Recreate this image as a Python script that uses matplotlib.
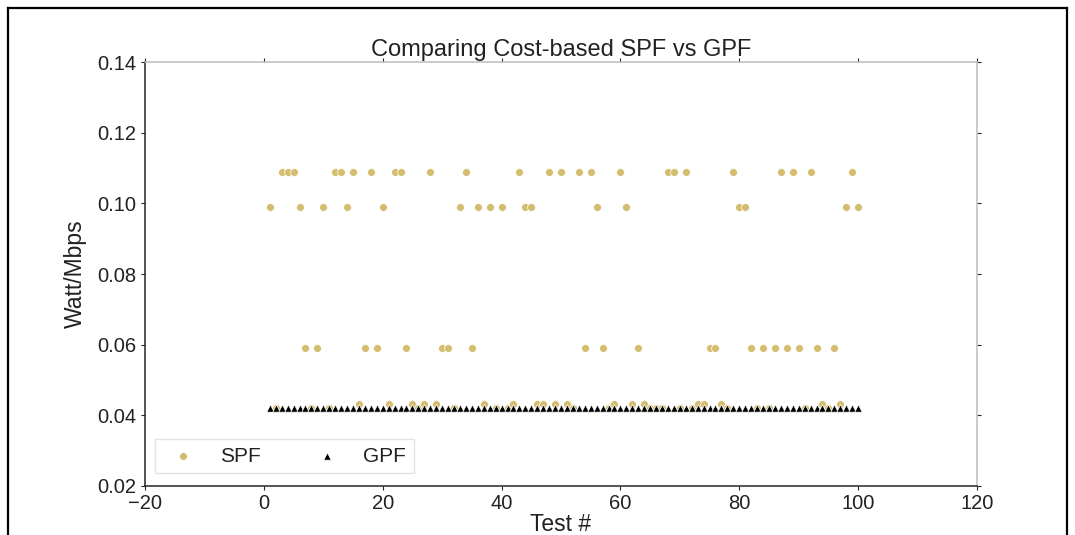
import matplotlib
matplotlib.use("Agg")
import matplotlib.pyplot as plt
from matplotlib.lines import Line2D
import numpy as np

plt.rcParams["font.family"] = ["Liberation Sans", "DejaVu Sans"]

C_GOLD = "#D4BD6F"
C_DARK = "#262626"
C_LIGHT = "#BDBDBD"

# ── Datos ──────────────────────────────────────────────────────────────────
tests = list(range(1, 101))

spf = [
    0.099, 0.042, 0.109, 0.109, 0.109, 0.099, 0.059, 0.042, 0.059, 0.099,   # 1-10
    0.042, 0.109, 0.109, 0.099, 0.109, 0.0433, 0.059, 0.109, 0.059, 0.099,  # 11-20
    0.0433, 0.109, 0.109, 0.059, 0.0433, 0.042, 0.0433, 0.109, 0.0433, 0.059,  # 21-30
    0.059, 0.042, 0.099, 0.109, 0.059, 0.099, 0.0433, 0.099, 0.042, 0.099,  # 31-40
    0.042, 0.0433, 0.109, 0.099, 0.099, 0.0433, 0.0433, 0.109, 0.0433, 0.109,  # 41-50
    0.0433, 0.042, 0.109, 0.059, 0.109, 0.099, 0.059, 0.042, 0.0433, 0.109,  # 51-60
    0.099, 0.0433, 0.059, 0.0433, 0.042, 0.042, 0.042, 0.109, 0.109, 0.042,  # 61-70
    0.109, 0.042, 0.0433, 0.0433, 0.059, 0.059, 0.0433, 0.042, 0.109, 0.099,  # 71-80
    0.099, 0.059, 0.042, 0.059, 0.042, 0.059, 0.109, 0.059, 0.109, 0.059,   # 81-90
    0.042, 0.109, 0.059, 0.0433, 0.042, 0.059, 0.0433, 0.099, 0.109, 0.099,  # 91-100
]
gpf = [0.042] * 100

x_ticks = [-20, 0, 20, 40, 60, 80, 100, 120]
y_ticks = [0.02, 0.04, 0.06, 0.08, 0.10, 0.12, 0.14]

# ── Figura ─────────────────────────────────────────────────────────────────
fig = plt.figure(figsize=(10.75, 5.35), dpi=100)
ax = fig.add_axes([0.1349, 0.0916, 0.7739, 0.7925])

ax.scatter(tests, spf, s=32, color=C_GOLD, edgecolors="white", linewidths=0.5,
           label="SPF", zorder=3)
ax.scatter(tests, gpf, s=28, marker="^", color="black", edgecolors="white",
           linewidths=0.5, label="GPF", zorder=4)

ax.set_xlim(-20, 120)
ax.set_ylim(0.02, 0.14)
ax.set_xticks(x_ticks)
ax.set_yticks(y_ticks)
ax.set_yticklabels([f"{v:.2f}" for v in y_ticks])

# Ejes
for s in ["left", "bottom"]:
    ax.spines[s].set_color(C_DARK)
    ax.spines[s].set_linewidth(1.1)
for s in ["top", "right"]:
    ax.spines[s].set_color(C_LIGHT)
    ax.spines[s].set_linewidth(1.1)
ax.tick_params(direction="out", length=3, width=0.8, labelsize=14.5,
               colors=C_DARK, labelcolor="#222222", pad=3,
               top=True, right=True)
for t in ax.xaxis.get_ticklines()[1::2] + ax.yaxis.get_ticklines()[1::2]:
    t.set_color(C_LIGHT)

ax.set_xlabel("Test #", fontsize=16.5, color="#222222", labelpad=0)
ax.set_ylabel("Watt/Mbps", fontsize=16.5, color="#222222", labelpad=8)
ax.set_title("Comparing Cost-based SPF vs GPF", fontsize=17, color="#222222", pad=4)

leg = ax.legend(loc="lower left", bbox_to_anchor=(0.012, 0.031), ncol=2,
                scatterpoints=1, markerscale=1.0,
                fontsize=15, frameon=True, fancybox=False,
                borderaxespad=0.0, columnspacing=2.2, handlelength=2.0,
                handletextpad=0.75, borderpad=0.35)
leg.get_frame().set_edgecolor("#DDDDDD")
leg.get_frame().set_linewidth(1.0)
for t in leg.get_texts():
    t.set_color("#222222")

# Marco de la captura
for xs, ys in [([0.0075, 0.0075], [0.0, 0.985]),
               ([0.0075, 0.993], [0.985, 0.985]),
               ([0.993, 0.993], [0.0, 0.985])]:
    fig.add_artist(Line2D(xs, ys, color="black", lw=1.6, transform=fig.transFigure))

plt.savefig("out.png", dpi=100, facecolor="white")
